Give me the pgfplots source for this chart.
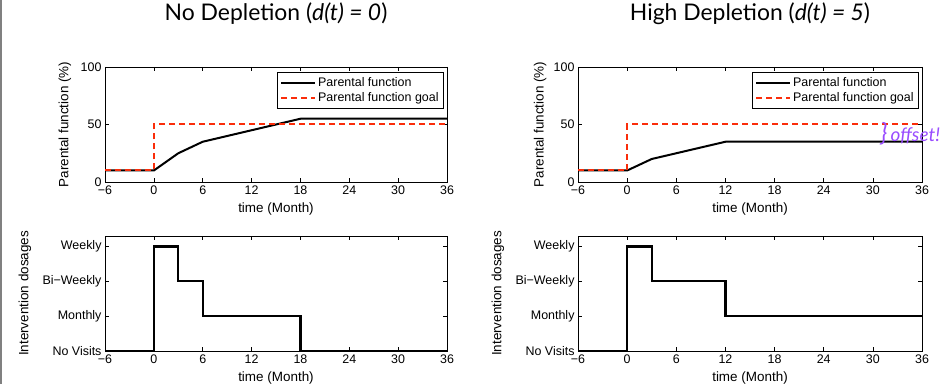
\documentclass[border=0pt]{standalone}
\usepackage{fontspec}
\setmainfont{Liberation Sans}
\newfontfamily\gill{Lato}
\usepackage{pgfplots}
\pgfplotsset{compat=1.18}
\definecolor{goalred}{RGB}{250,45,10}
\definecolor{offpurple}{RGB}{153,76,255}
\pgfplotsset{
  base/.style={
    scale only axis, width=342bp, height=115bp,
    xmin=-6, xmax=36,
    xtick={-6,0,6,12,18,24,30,36},
    xticklabels={−6,0,6,12,18,24,30,36},
    tick align=inside, major tick length=4bp,
    axis line style={line width=0.8bp},
    tick style={line width=0.6bp, black},
    tick label style={font=\fontsize{12.5}{13}\selectfont},
    label style={font=\fontsize{13.5}{14}\selectfont},
    xlabel={time (Month)},
    /pgf/number format/assume math mode=true,
  },
  toprow/.style={base,
    ymin=0, ymax=100, ytick={0,50,100},
    ylabel={Parental function (\%)},
    x label style={at={(axis description cs:0.5,-0.235)},anchor=center},
    legend style={at={(rel axis cs:1,1)},anchor=north east,xshift=-3bp,yshift=-5bp,
      font=\fontsize{12.5}{13}\selectfont, draw=black, line width=0.8bp,
      inner xsep=3bp, inner ysep=3bp, row sep=1bp, cells={anchor=west}},
    legend image code/.code={\draw[#1, line width=1.8bp] (0bp,0bp) -- (34bp,0bp);},
    title style={at={(axis description cs:0.5,1.41)},anchor=center,font=\gill\fontsize{23}{25}\selectfont},
  },
  botrow/.style={base,
    ymin=0, ymax=3.3, ytick={0,1,2,3},
    yticklabels={No Visits,Monthly,Bi−Weekly,Weekly},
    ylabel={Intervention dosages},
    x label style={at={(axis description cs:0.5,-0.235)},anchor=center},
  },
}
\begin{document}
\begin{tikzpicture}
\useasboundingbox (0bp,0bp) rectangle (951bp,384bp);
\fill[gray] (0bp,0bp) rectangle (2bp,384bp);
% top-left
\begin{axis}[toprow, at={(105bp,202bp)}, anchor=south west,
  y label style={at={(axis description cs:-0.117,0.5)},anchor=center},
  title={No Depletion (\textit{d(t) = 0})}]
\addplot[black, line width=2bp] coordinates {(-6,10) (0,10) (3,25) (6,35) (18,55) (36,55)};
\addlegendentry{Parental function}
\addplot[goalred, line width=2bp, dash pattern=on 6bp off 4bp] coordinates {(-6,10) (0,10) (0,50) (36,50)};
\addlegendentry{Parental function goal}
\end{axis}
% top-right
\begin{axis}[toprow, at={(578bp,202bp)}, anchor=south west, clip=false,
  width=344bp,
  y label style={at={(axis description cs:-0.11,0.5)},anchor=center},
  title={High Depletion (\textit{d(t) = 5})}]
\addplot[black, line width=2bp] coordinates {(-6,10) (0,10) (3,20) (12,35) (36,35)};
\addlegendentry{Parental function}
\addplot[goalred, line width=2bp, dash pattern=on 6bp off 4bp] coordinates {(-6,10) (0,10) (0,50) (36,50)};
\addlegendentry{Parental function goal}
\node[anchor=west, inner sep=0pt, text=offpurple, font=\gill\itshape\fontsize{19}{20}\selectfont] at (axis cs:30.9,42) {{\fontsize{25}{26}\selectfont\}}\,offset!};
\end{axis}
% bottom-left
\begin{axis}[botrow, at={(105bp,33bp)}, anchor=south west,
  y label style={at={(axis description cs:-0.234,0.5)},anchor=center}]
\addplot[black, line width=2.2bp] coordinates {(-6,0) (0,0) (0,3) (3,3) (3,2) (6,2) (6,1) (18,1) (18,0) (36,0)};
\end{axis}
% bottom-right
\begin{axis}[botrow, at={(578bp,33bp)}, anchor=south west, width=344bp,
  y label style={at={(axis description cs:-0.233,0.5)},anchor=center}]
\addplot[black, line width=2.2bp] coordinates {(-6,0) (0,0) (0,3) (3,3) (3,2) (12,2) (12,1) (36,1)};
\end{axis}
\end{tikzpicture}
\end{document}
